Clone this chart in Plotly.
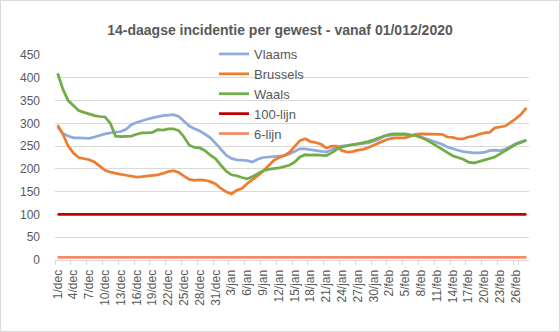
import plotly.graph_objects as go
import datetime as dt

# --- data ---
start = dt.date(2020, 12, 1)
months = {12: "dec", 1: "jan", 2: "feb"}
dates = [start + dt.timedelta(days=i) for i in range(90)]
categories = [f"{d.day}/{months[d.month]}" for d in dates]

vlaams = [292, 278, 272, 268, 268, 268, 267, 270, 274, 277, 279, 280, 282, 287, 297, 302, 306, 309, 312, 315,
          317, 318, 319, 315, 305, 294, 288, 283, 276, 268, 256, 243, 230, 223, 220, 219, 218, 215, 221, 225,
          226, 227, 228, 229, 233, 239, 244, 244, 242, 240, 239, 237, 242, 248, 250, 252, 254, 255, 256, 257,
          261, 265, 272, 274, 275, 275, 275, 275, 274, 270, 266, 262, 258, 254, 248, 244, 241, 238, 236, 235,
          235, 236, 240, 241, 240, 243, 249, 256, 260, 263]
brussels = [296, 276, 250, 235, 225, 222, 220, 215, 205, 197, 193, 190, 188, 186, 184, 182, 183, 184, 186, 187,
            190, 194, 196, 192, 184, 177, 175, 176, 175, 172, 167, 157, 150, 145, 153, 157, 168, 176, 185, 195,
            207, 218, 225, 229, 236, 248, 262, 266, 260, 258, 254, 246, 250, 250, 240, 237, 238, 241, 243, 247,
            252, 258, 262, 266, 268, 268, 268, 272, 276, 277, 277, 277, 277, 276, 270, 269, 266, 266, 270, 272,
            276, 279, 280, 290, 292, 294, 302, 310, 320, 334]
waals = [410, 375, 350, 338, 328, 324, 320, 317, 315, 314, 300, 272, 271, 271, 272, 276, 279, 279, 280, 286,
         285, 288, 288, 284, 270, 252, 247, 246, 240, 230, 222, 208, 195, 187, 185, 181, 178, 183, 190, 196,
         199, 200, 202, 205, 208, 215, 226, 231, 230, 231, 230, 229, 235, 243, 248, 251, 253, 255, 257, 260,
         264, 268, 273, 276, 277, 277, 277, 274, 273, 269, 264, 257, 250, 244, 236, 229, 225, 221, 215, 213,
         216, 219, 222, 226, 233, 240, 246, 254, 258, 263]
lijn100 = [100] * 90
lijn6 = [6] * 90

series = [
    ("Vlaams", vlaams, "#8FAADC", 2.75),
    ("Brussels", brussels, "#ED7D31", 2.75),
    ("Waals", waals, "#70AD47", 2.75),
    ("100-lijn", lijn100, "#C00000", 2.75),
    ("6-lijn", lijn6, "#F4896B", 2.75),
]

tick_vals = categories[::3]
y_ticks = list(range(0, 451, 50))

fig = go.Figure()
for name, vals, color, w in series:
    fig.add_trace(go.Scatter(x=categories, y=vals, name=name, mode="lines",
                             line=dict(color=color, width=w)))

W, H = 560, 332
L, R, T, B = 55, 31, 55, 72
pw, ph = W - L - R, H - T - B

def px2x(px):
    return (px - L) / pw

def py2y(py):
    return (H - B - py) / ph

fig.update_layout(
    width=W, height=H,
    margin=dict(l=L, r=R, t=T, b=B),
    paper_bgcolor="white", plot_bgcolor="white",
    font=dict(family="Liberation Sans, Arial, sans-serif", color="#595959", size=12),
    title=dict(text="<b>14-daagse incidentie per gewest - vanaf 01/012/2020</b>",
               x=0.5, xref="container", xanchor="center",
               y=0.908, yref="container", yanchor="middle",
               font=dict(size=14, color="#595959", family="Liberation Sans, Arial, sans-serif")),
    showlegend=True,
    legend=dict(x=px2x(214), y=py2y(39), xanchor="left", yanchor="top",
                bgcolor="rgba(0,0,0,0)", font=dict(size=13, color="#595959"),
                tracegroupgap=0, itemwidth=30),
    xaxis=dict(type="category", range=[-0.5, 89.5], tickmode="array",
               tickvals=tick_vals, ticktext=tick_vals, tickangle=-90,
               tickson="boundaries", ticks="outside", ticklen=4, tickcolor="#D9D9D9",
               showline=True, linecolor="#D9D9D9", linewidth=1, showgrid=False,
               ticklabelstandoff=4,
               tickfont=dict(size=12, color="#595959")),
    yaxis=dict(range=[0, 450], tickvals=y_ticks, showgrid=True, gridcolor="#D9D9D9",
               gridwidth=1, zeroline=False, showline=False, ticks="",
               ticklabelstandoff=14, tickfont=dict(size=12, color="#595959")),
    shapes=[dict(type="rect", xref="paper", yref="paper",
                 x0=px2x(0.5), x1=px2x(W - 0.5), y0=py2y(H - 0.5), y1=py2y(0.5),
                 line=dict(color="#D9D9D9", width=1), layer="below")],
)

fig.write_html("out.html")
